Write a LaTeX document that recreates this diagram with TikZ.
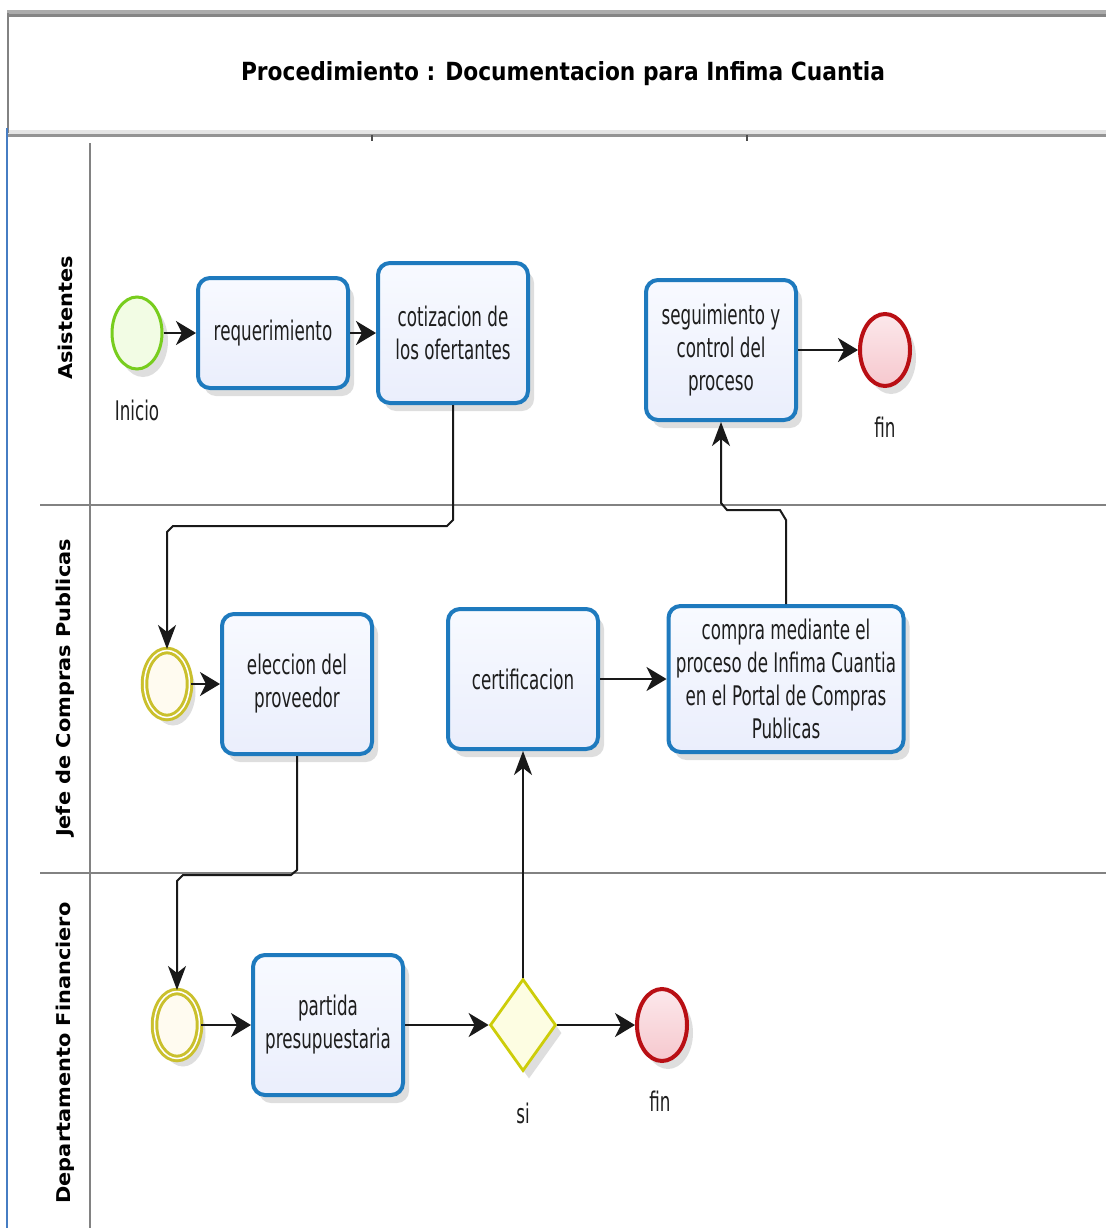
\documentclass[tikz,border=0pt]{standalone}
\usepackage{fontspec}
\setmainfont{DejaVu Sans}
\newfontfamily\boxfont[FakeStretch=0.62]{DejaVu Sans}
\newfontfamily\titlefont[FakeStretch=0.87]{DejaVu Sans}
\newfontfamily\lanefont[FakeStretch=1.1]{DejaVu Sans}
\usetikzlibrary{arrows.meta,shapes.geometric,shadows,calc}

\definecolor{taskblue}{RGB}{30,122,190}
\definecolor{taskfill}{RGB}{234,238,252}
\definecolor{tasktop}{RGB}{248,250,255}
\definecolor{startgreen}{RGB}{120,205,30}
\definecolor{startfill}{RGB}{242,252,228}
\definecolor{endred}{RGB}{185,15,20}
\definecolor{endfill}{RGB}{246,200,206}
\definecolor{endtop}{RGB}{252,232,235}
\definecolor{midyellow}{RGB}{202,192,45}
\definecolor{midfill}{RGB}{255,251,240}
\definecolor{gwyellow}{RGB}{205,205,10}
\definecolor{gwfill}{RGB}{253,253,226}
\definecolor{lanegray}{RGB}{130,130,130}
\definecolor{edgeblue}{RGB}{70,125,195}
\definecolor{textgray}{RGB}{30,30,30}

\tikzset{
	softshadow/.style={drop shadow={shadow xshift=6pt, shadow yshift=-8pt, opacity=0.13, fill=black}},
	task/.style={draw=taskblue, top color=tasktop, bottom color=taskfill, line width=4pt, rounded corners=12pt, minimum width=150pt, minimum height=110pt, align=center, text=textgray, font=\boxfont\fontsize{27}{33}\selectfont, softshadow},
	startev/.style={ellipse, draw=startgreen, fill=startfill, line width=3pt, minimum width=50pt, minimum height=72pt, inner sep=0pt, softshadow},
	endev/.style={ellipse, draw=endred, top color=endtop, bottom color=endfill, line width=4pt, minimum width=50pt, minimum height=72pt, inner sep=0pt, softshadow},
	midev/.style={ellipse, draw=midyellow, fill=midfill, line width=3pt, double=white, double distance=1.5pt, minimum width=45pt, minimum height=67pt, inner sep=0pt, softshadow},
	gw/.style={diamond, aspect=0.72, draw=gwyellow, fill=gwfill, line width=2.8pt, minimum width=66pt, minimum height=92pt, inner sep=0pt, softshadow},
	evlabel/.style={text=textgray, font=\boxfont\fontsize{27}{33}\selectfont},
	lanelabel/.style={rotate=90, text=black, font=\lanefont\bfseries\fontsize{19}{23}\selectfont},
	flow/.style={draw=black!90, line width=2pt, -{Stealth[length=20pt,width=24pt,inset=6pt]}},
	vflow/.style={draw=black!90, line width=2pt, -{Stealth[length=24pt,width=18pt,inset=7pt]}},
	lane/.style={draw=lanegray, line width=2pt}
}

\begin{document}
\begin{tikzpicture}[x=1pt, y=-1pt]
	
	\useasboundingbox[fill=white] (0,0) rectangle (1106,1228);
	
	\fill[black!33] (7,10) rectangle (1106,14);
	\fill[black!48] (7,14) rectangle (1106,17);
	\fill[black!10] (7,130) rectangle (1106,134);
	\fill[black!42] (7,134) rectangle (1106,137);
	\draw[lane] (8,13) -- (8,133);
	\draw[edgeblue, line width=2pt] (7,128) -- (7,1228);
	\draw[black!70, line width=1.5pt] (372,135) -- (372,141);
	\draw[black!70, line width=1.5pt] (747,135) -- (747,141);
	
	\draw[lane] (90,143) -- (90,1228);
	\draw[lane] (40,505) -- (1106,505);
	\draw[lane] (40,873) -- (1106,873);
	
	\node (titulo) at (563,74) [font=\titlefont\bfseries\fontsize{25}{30}\selectfont] {Procedimiento : Documentacion para Infima Cuantia};
	
	\node (asis) at (65,318) [lanelabel] {Asistentes};
	\node (jefe) at (65,688) [lanelabel] {Jefe de Compras Publicas};
	\node (depto) at (65,1053) [lanelabel] {Departamento Financiero};
	
	\node (inicio) at (137,333) [startev] {};
	\node (inicio-lbl) at (137,410) [evlabel] {Inicio};
	\node (req) at (273,333) [task] {requerimiento};
	\node (cot) at (453,333) [task, minimum height=140pt] {cotizacion de\\los ofertantes};
	\node (seg) at (721,350) [task, minimum height=140pt] {seguimiento y\\control del\\proceso};
	\node (fin1) at (885,350) [endev] {};
	\node (fin1-lbl) at (885,427) [evlabel] {fin};
	
	\node (ev1) at (167,684) [midev] {};
	\node (ele) at (297,684) [task, minimum height=140pt] {eleccion del\\proveedor};
	\node (cert) at (523,679) [task, minimum height=140pt] {certificacion};
	\node (comp) at (786,679) [task, minimum width=235pt, minimum height=146pt] {compra mediante el\\proceso de Infima Cuantia\\en el Portal de Compras\\Publicas};
	
	\node (ev2) at (177,1025) [midev] {};
	\node (part) at (328,1025) [task, minimum height=140pt] {partida\\presupuestaria};
	\node (gate) at (523,1025) [gw] {};
	\node (gate-lbl) at (523,1113) [evlabel] {si};
	\node (fin2) at (662,1025) [endev] {};
	\node (fin2-lbl) at (660,1101) [evlabel] {fin};
	
	\draw[flow] (inicio) -- (req);
	\draw[flow] (req) -- (cot);
	\draw[vflow] (cot.south) -- ++(0,115) -- ++(-6,6) coordinate (k1) -- ($(k1 -| ev1.north)+(6,0)$) -- ++(-6,6) -- (ev1.north);
	\draw[flow] (ev1) -- (ele);
	\draw[vflow] (ele.south) -- ++(0,114) -- ++(-6,5) coordinate (k2) -- ($(k2 -| ev2.north)+(6,0)$) -- ++(-6,6) -- (ev2.north);
	\draw[flow] (ev2) -- (part);
	\draw[flow] (part) -- (gate);
	\draw[vflow] (gate.north) -- (cert.south);
	\draw[flow] (gate) -- (fin2);
	\draw[flow] (cert) -- (comp);
	\draw[vflow] (comp.north) -- ++(0,-84) -- ++(-6,-10) coordinate (k3) -- ($(k3 -| seg.south)+(6,0)$) -- ++(-6,-7) -- (seg.south);
	\draw[flow] (seg) -- (fin1);
	
\end{tikzpicture}
\end{document}
